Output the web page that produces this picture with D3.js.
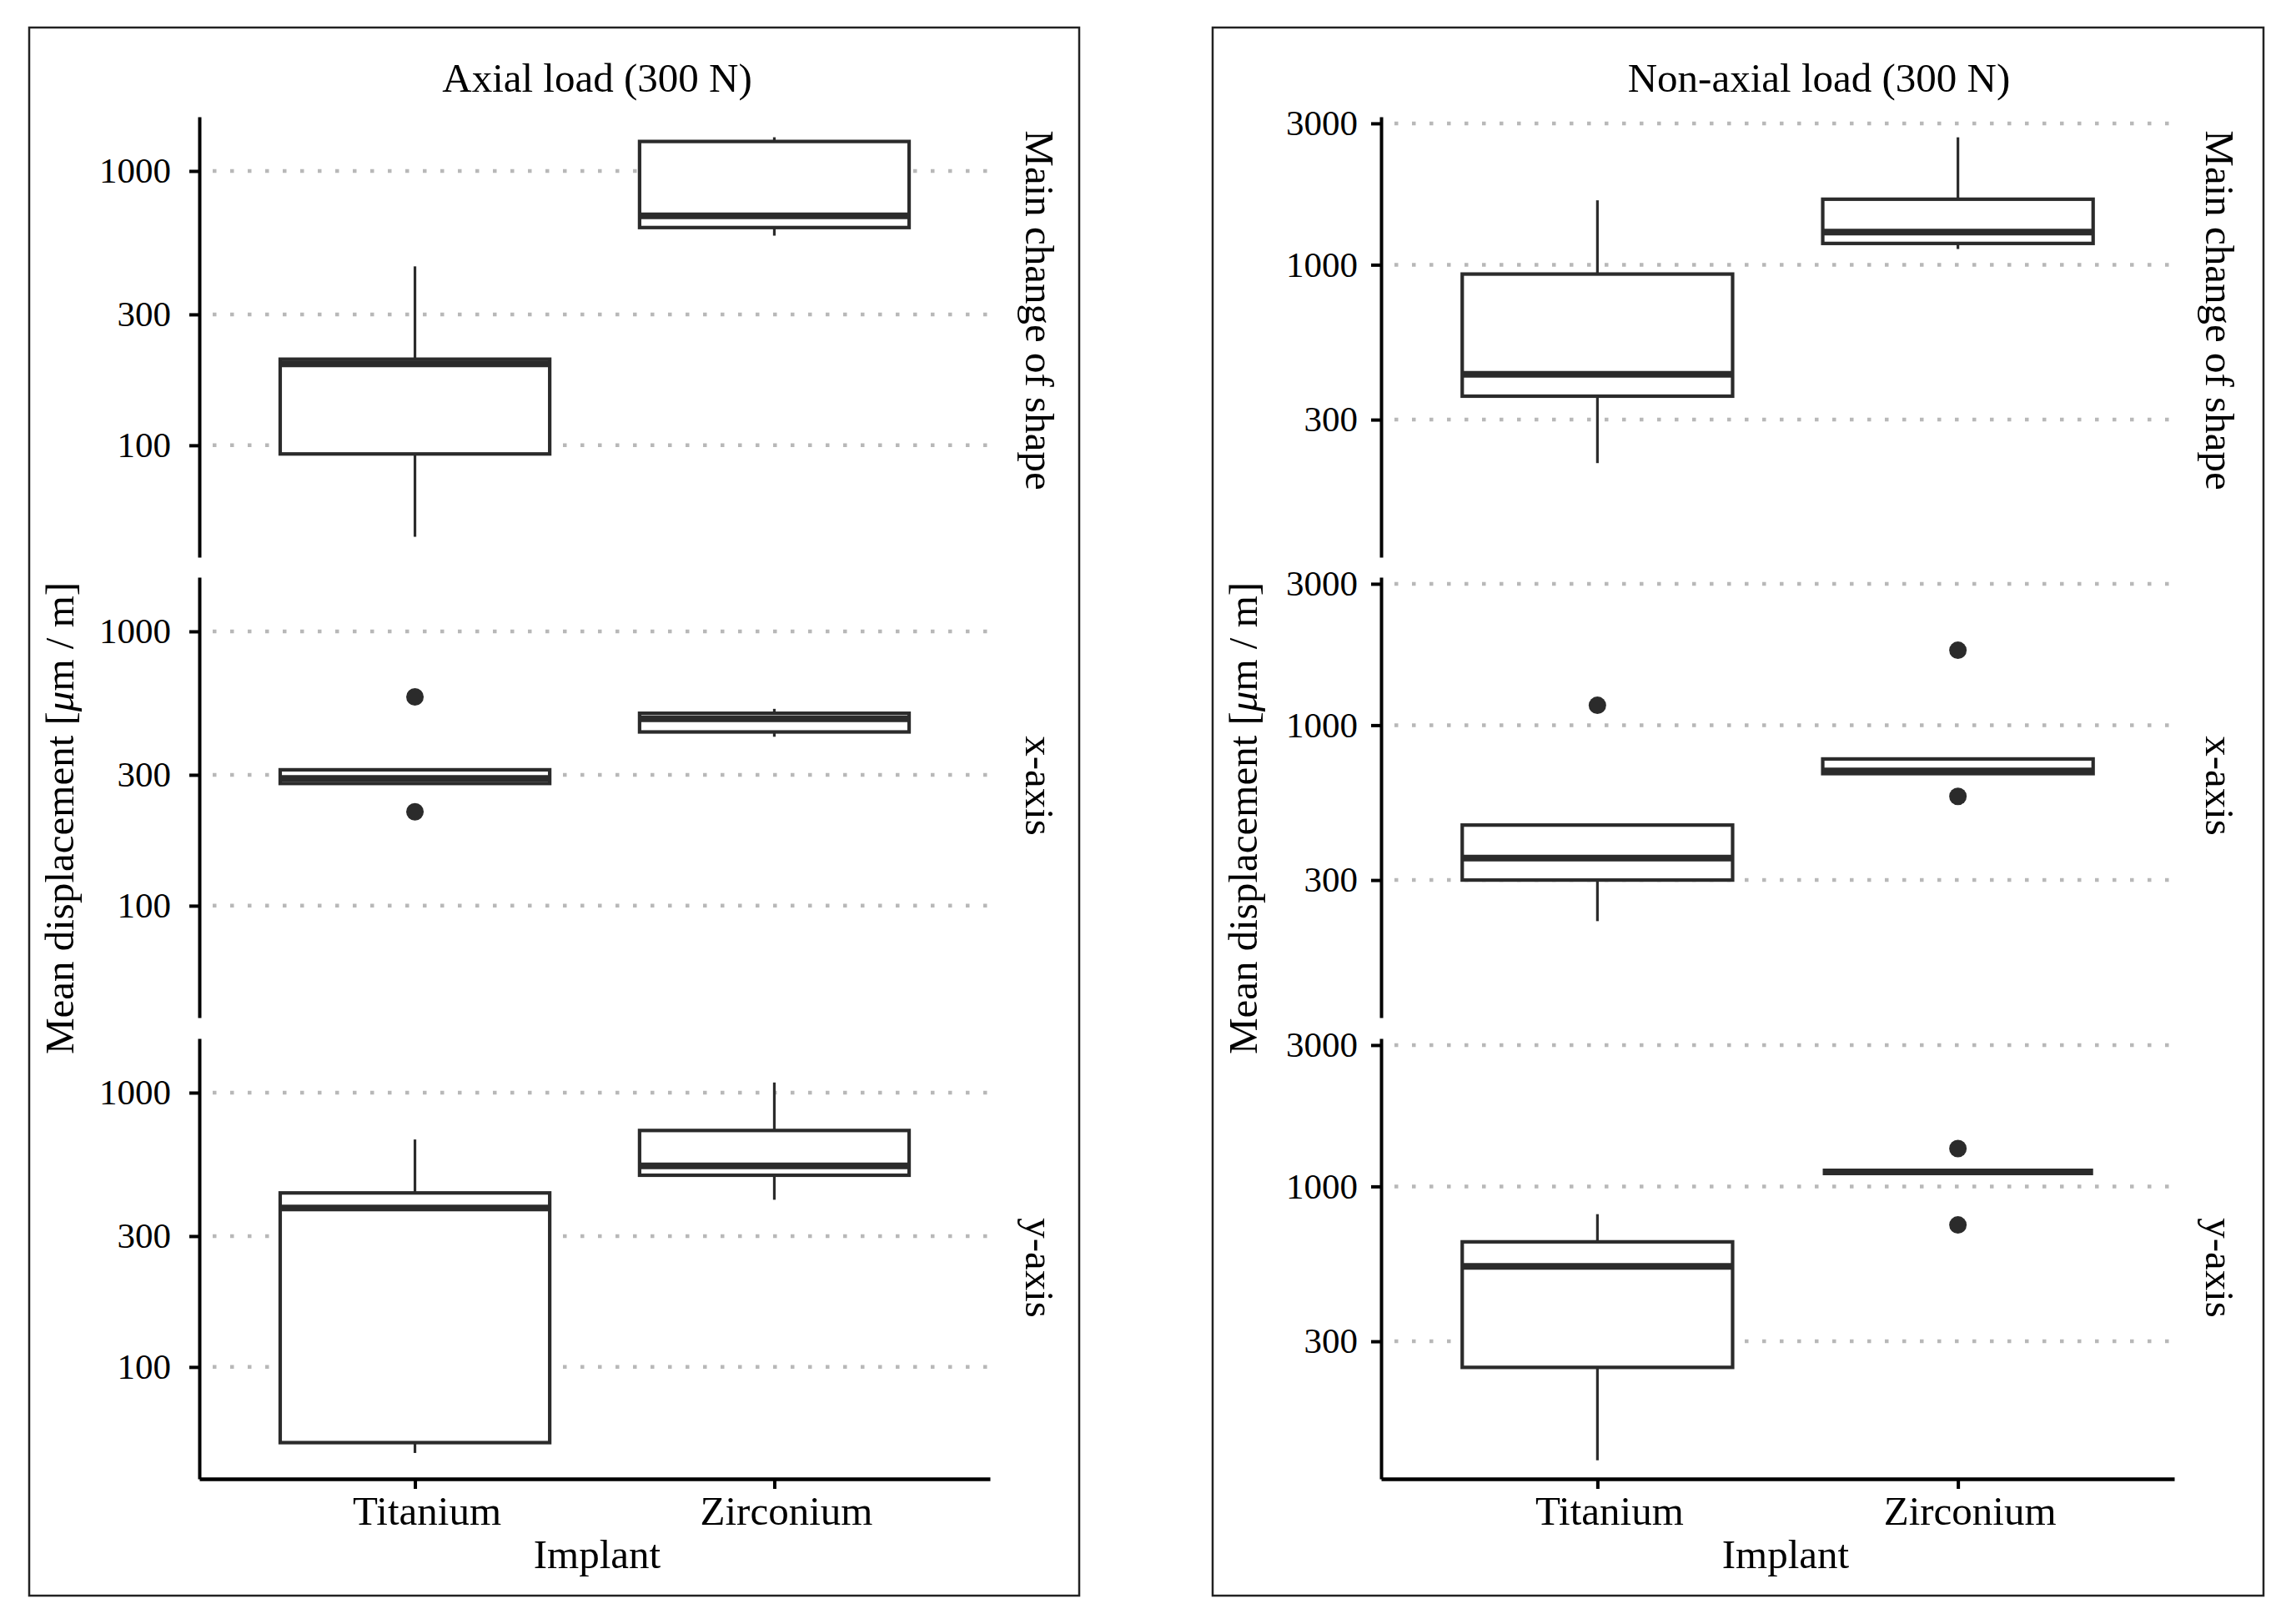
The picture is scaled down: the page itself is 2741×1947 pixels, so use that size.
<!DOCTYPE html>
<html>
<head>
<meta charset="utf-8">
<script src="https://cdn.jsdelivr.net/npm/d3@7"></script>
<style>
  body { margin: 0; background: #fff; }
  text { font-family: "Liberation Serif", "Times New Roman", serif; fill: #000; }
</style>
</head>
<body>
<svg id="chart" width="2741" height="1947"></svg>
<script>
// categories and labels
const implants = ["Titanium", "Zirconium"];
const loads = ["Axial load (300 N)", "Non-axial load (300 N)"];
const components = ["Main change of shape", "x-axis", "y-axis"];
const tickValues = [[100, 300, 1000], [300, 1000, 3000]];
const yDomains = [[39.1, 1576], [103, 3158]];

// box stats per component: [lower whisker, Q1, median, Q3, upper whisker]
const axialTitanium = [[46.4, 93, 198, 206, 449], [279, 279, 291, 313, 313], [48.6, 53, 380, 431, 675]];
const axialZirconium = [[581, 622, 686, 1281, 1327], [413, 430, 480, 503, 522], [407, 500, 541, 728, 1089]];
const nonAxialTitanium = [[214, 360, 427, 930, 1650], [218, 300, 356, 460, 460], [119, 245, 537, 650, 806]];
const nonAxialZirconium = [[1130, 1180, 1288, 1664, 2692], [686, 686, 701, 769, 769], [1120, 1120, 1120, 1120, 1120]];

// outliers per component
const axialTitaniumOut = [[], [577, 220], []];
const axialZirconiumOut = [[], [], []];
const nonAxialTitaniumOut = [[], [1167], []];
const nonAxialZirconiumOut = [[], [1790, 575], [1342, 741]];

const stats = [[axialTitanium, axialZirconium], [nonAxialTitanium, nonAxialZirconium]];
const outliers = [[axialTitaniumOut, axialZirconiumOut], [nonAxialTitaniumOut, nonAxialZirconiumOut]];

// layout
const facetTop = [140, 692, 1245];
const facetH = 528;
const stripY = [372, 942, 1520];
const panels = [
  { frame: [35, 33, 1294, 1913], x0: 239, x1: 1187, titleX: 716, stripX: 1230, yTitleX: 88, implantX: 716, pad: 22 },
  { frame: [1454, 33, 2714, 1913], x0: 1656, x1: 2607, titleX: 2181, stripX: 2645, yTitleX: 1507, implantX: 2141, pad: 16 }
];
const boxColor = "#2b2b2b";

const svg = d3.select("#chart");
svg.append("rect").attr("width", 2741).attr("height", 1947).attr("fill", "#fff");

panels.forEach((p, i) => {
  const g = svg.append("g");

  g.append("rect")
    .attr("x", p.frame[0]).attr("y", p.frame[1])
    .attr("width", p.frame[2] - p.frame[0]).attr("height", p.frame[3] - p.frame[1])
    .attr("fill", "none").attr("stroke", "#222").attr("stroke-width", 2.5);

  g.append("text")
    .attr("x", p.titleX).attr("y", 110)
    .attr("text-anchor", "middle").attr("font-size", 49)
    .text(loads[i]);

  const x = d3.scalePoint().domain(implants).range([p.x0, p.x1]).padding(0.6);
  const bw = x.step() * 0.75;

  components.forEach((comp, j) => {
    const top = facetTop[j];
    const y = d3.scaleLog().domain(yDomains[i]).range([top + facetH, top]);

    // dotted grid
    g.append("g").selectAll("line")
      .data(tickValues[i])
      .join("line")
      .attr("x1", p.x0).attr("x2", p.x1)
      .attr("y1", d => y(d)).attr("y2", d => y(d))
      .attr("stroke", "#b8b8b8").attr("stroke-width", 4.5)
      .attr("stroke-dasharray", "4.5 16.5").attr("stroke-dashoffset", -16);

    // y axis
    const ax = g.append("g")
      .attr("transform", `translate(${p.x0},0)`)
      .call(d3.axisLeft(y).tickValues(tickValues[i]).tickFormat(d3.format("d"))
        .tickSize(12).tickSizeOuter(0).tickPadding(p.pad));
    ax.select(".domain").attr("stroke", "#000").attr("stroke-width", 4);
    ax.selectAll(".tick line").attr("stroke", "#000").attr("stroke-width", 4);
    ax.selectAll(".tick text").attr("font-size", 43).attr("fill", "#000")
      .style("font-family", '"Liberation Serif", serif');

    // boxes
    implants.forEach((imp, k) => {
      const [lo, q1, med, q3, hi] = stats[i][k][j];
      const cx = x(imp);
      const bg = g.append("g");

      bg.append("line")
        .attr("x1", cx).attr("x2", cx).attr("y1", y(q3)).attr("y2", y(hi))
        .attr("stroke", boxColor).attr("stroke-width", 3.2);
      bg.append("line")
        .attr("x1", cx).attr("x2", cx).attr("y1", y(q1)).attr("y2", y(lo))
        .attr("stroke", boxColor).attr("stroke-width", 3.2);
      bg.append("rect")
        .attr("x", cx - bw / 2).attr("width", bw)
        .attr("y", y(q3)).attr("height", Math.max(0, y(q1) - y(q3)))
        .attr("fill", "#fff").attr("stroke", boxColor).attr("stroke-width", 4.2);
      bg.append("line")
        .attr("x1", cx - bw / 2).attr("x2", cx + bw / 2)
        .attr("y1", y(med)).attr("y2", y(med))
        .attr("stroke", boxColor).attr("stroke-width", 8);

      bg.selectAll("circle")
        .data(outliers[i][k][j])
        .join("circle")
        .attr("cx", cx).attr("cy", d => y(d)).attr("r", 10.5)
        .attr("fill", boxColor);
    });

    // strip label
    g.append("text")
      .attr("transform", `translate(${p.stripX},${stripY[j]}) rotate(90)`)
      .attr("text-anchor", "middle").attr("font-size", 49)
      .text(comp);
  });

  // x axis on the bottom facet
  const xa = g.append("g")
    .attr("transform", `translate(0,${facetTop[2] + facetH})`)
    .call(d3.axisBottom(x).tickSize(12).tickSizeOuter(0).tickPadding(8));
  xa.select(".domain").attr("stroke", "#000").attr("stroke-width", 4.5);
  xa.selectAll(".tick line").attr("stroke", "#000").attr("stroke-width", 4);
  xa.selectAll(".tick text").attr("font-size", 49).attr("fill", "#000").attr("dx", 14)
    .style("font-family", '"Liberation Serif", serif');

  g.append("text")
    .attr("x", p.implantX).attr("y", 1880)
    .attr("text-anchor", "middle").attr("font-size", 49)
    .text("Implant");

  const yt = g.append("text")
    .attr("transform", `translate(${p.yTitleX},981) rotate(-90)`)
    .attr("text-anchor", "middle").attr("font-size", 49);
  yt.append("tspan").text("Mean displacement [");
  yt.append("tspan").attr("font-style", "italic").text("μ");
  yt.append("tspan").text("m / m]");
});
</script>
</body>
</html>
